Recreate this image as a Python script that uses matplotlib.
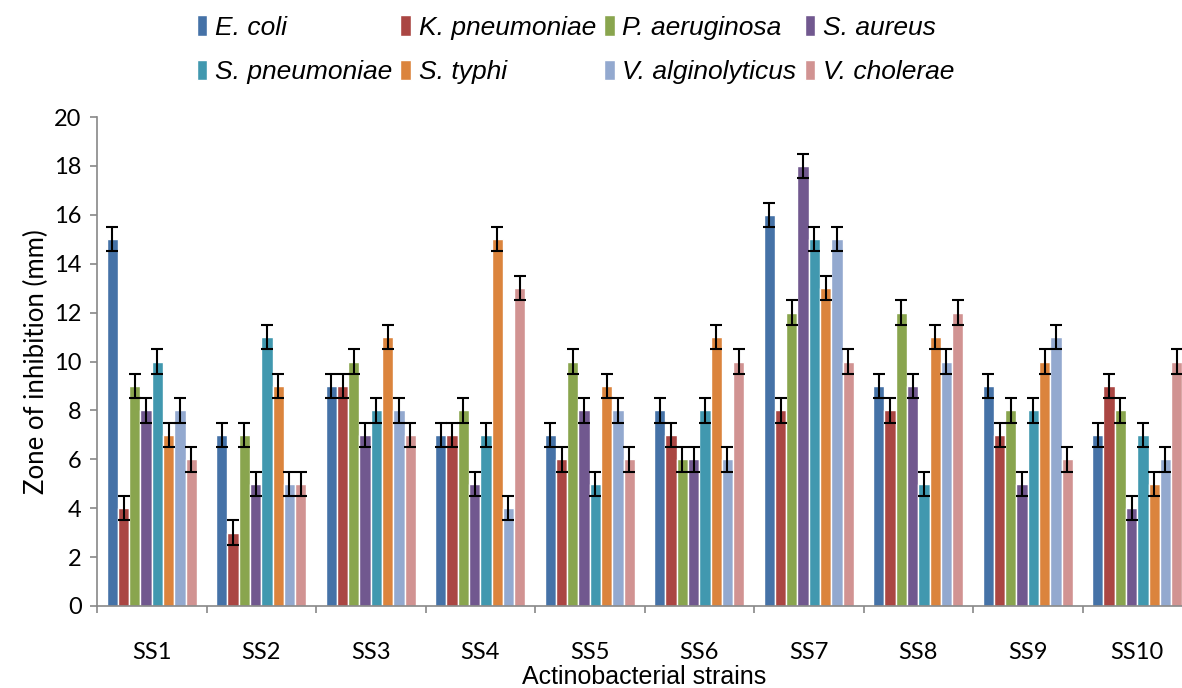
import numpy as np
import matplotlib
matplotlib.use("Agg")
import matplotlib.pyplot as plt

strains = ["SS1", "SS2", "SS3", "SS4", "SS5", "SS6", "SS7", "SS8", "SS9", "SS10"]
organisms = ["E. coli", "K. pneumoniae", "P. aeruginosa", "S. aureus",
             "S. pneumoniae", "S. typhi", "V. alginolyticus", "V. cholerae"]

e_coli = [15, 7, 9, 7, 7, 8, 16, 9, 9, 7]
k_pneumoniae = [4, 3, 9, 7, 6, 7, 8, 8, 7, 9]
p_aeruginosa = [9, 7, 10, 8, 10, 6, 12, 12, 8, 8]
s_aureus = [8, 5, 7, 5, 8, 6, 18, 9, 5, 4]
s_pneumoniae = [10, 11, 8, 7, 5, 8, 15, 5, 8, 7]
s_typhi = [7, 9, 11, 15, 9, 11, 13, 11, 10, 5]
v_alginolyticus = [8, 5, 8, 4, 8, 6, 15, 10, 11, 6]
v_cholerae = [6, 5, 7, 13, 6, 10, 10, 12, 6, 10]
err = 0.5

series = [e_coli, k_pneumoniae, p_aeruginosa, s_aureus,
          s_pneumoniae, s_typhi, v_alginolyticus, v_cholerae]
colors = ["#4572A7", "#AA4643", "#89A54E", "#71588F",
          "#4198AF", "#DB843D", "#93A9CF", "#D19392"]

fig = plt.figure(figsize=(11.82, 6.88), dpi=100)
# right side of the plot runs past the figure edge, as in the original
ax = fig.add_axes([97 / 1182, 82 / 688, 1095 / 1182, 489 / 688])

x = np.arange(len(strains))
w = 0.103
for i, (vals, c, name) in enumerate(zip(series, colors, organisms)):
    pos = x + (i - 3.5) * w
    ax.bar(pos, vals, width=w, color=c, edgecolor="white", linewidth=1, label=name)
    ax.errorbar(pos, vals, yerr=err, fmt="none", ecolor="black",
                elinewidth=1.5, capsize=4.5, capthick=1.5)

ax.set_xlim(-0.5, len(strains) - 0.5)
ax.set_ylim(0, 20)
ax.set_yticks(range(0, 21, 2))
ax.set_xticks(x)
ax.set_xticklabels(strains, fontsize=17, family="Lato")
ax.set_xticks(np.arange(-0.5, len(strains), 1), minor=True)
ax.tick_params(axis="x", which="major", length=0, pad=26)
ax.tick_params(axis="x", which="minor", length=5, width=1.2, color="#888888")
ax.tick_params(axis="y", length=5, width=1.2, color="#888888", labelsize=17, pad=6)
for lab in ax.get_yticklabels():
    lab.set_family("Lato")

for s in ["top", "right"]:
    ax.spines[s].set_visible(False)
for s in ["left", "bottom"]:
    ax.spines[s].set_color("#888888")
    ax.spines[s].set_linewidth(1.2)

ax.set_ylabel("Zone of inhibition (mm)", fontsize=18.5, family="Lato", labelpad=4)
ax.set_xlabel("Actinobacterial strains", fontsize=18, family="Liberation Sans", labelpad=1)

# legend fills rows first in the original
handles, labels = ax.get_legend_handles_labels()
order = [0, 4, 1, 5, 2, 6, 3, 7]
fig.legend([handles[k] for k in order], [labels[k] for k in order],
           loc="upper left", bbox_to_anchor=(173 / 1182, 1.012),
           ncol=4, frameon=False, prop={"family": "Liberation Sans", "style": "italic", "size": 19},
           handlelength=0.4, handleheight=0.8, handletextpad=0.3,
           columnspacing=0.3, labelspacing=0.75)

fig.savefig("out.png", dpi=100)
